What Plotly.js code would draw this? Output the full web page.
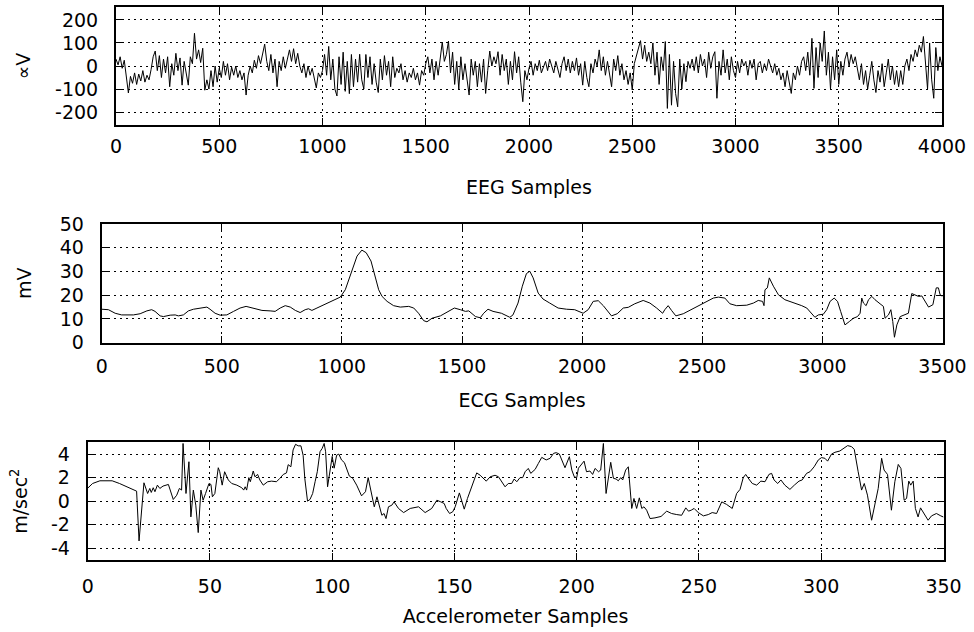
<!DOCTYPE html>
<html>
<head>
<meta charset="utf-8">
<script src="https://cdn.plot.ly/plotly-3.0.1.min.js"></script>
<style>html,body{margin:0;padding:0;background:#fff;}#chart{width:974px;height:632px;}</style>
</head>
<body>
<div id="chart"></div>
<script>
// ---------- EEG (one value every eegStep samples) ----------
const eegStep = 10;
const eegValues = [
  30, 5, 40, -10, 25, -50, -117, -45, -75, -30, -80, -35, -65, -20, -70, -40, -60, -15, 40, 65,
  -20, 45, -50, 30, -30, 40, -90, 10, -40, 55, -20, 35, -83, 20, -30, -83, 40, 10, 142, 30,
  70, 15, 77, -105, -60, -100, -20, -90, 0, -70, -10, -50, 20, -40, 10, -60, -5, -40, 0, -50,
  -20, -60, -30, -126, -40, 0, -30, 25, -10, 45, 10, 50, 95, 20, -20, 50, -30, 30, -90, 20,
  -20, 40, -10, 30, 70, 20, 75, 10, 55, 0, -30, 10, -50, 0, -40, -10, -60, -95, -30, -50,
  -20, 50, -40, 85, -60, 30, -100, -130, 40, -80, 60, -110, 20, -120, 50, -90, 30, -70, 51, -60,
  -100, 50, -50, 40, -80, 10, -70, -115, 30, -60, 45, -40, 20, -90, 40, -50, -10, -30, 10, -60,
  -20, -70, -30, -50, -10, -60, -30, -83, -20, -40, 10, 40, -30, 30, -60, 20, -40, 40, 104, 20,
  50, 108, -30, 60, -80, 20, -100, 40, -60, 10, -50, -126, 30, -40, 20, -90, 10, -70, 30, -119,
  -20, 65, 0, 40, 10, 62, -40, 50, -20, 30, -80, 20, -60, 62, -30, 40, -70, -155, -20, -60,
  -10, 20, -40, 10, -20, 25, -30, 0, 20, -20, 30, 0, -30, 20, -10, -50, 10, 40, -20, 30,
  -30, 20, -20, 35, -40, 10, -83, 20, -50, -90, 10, -30, 30, 0, 70, -20, 40, -40, 20, -30,
  -90, 30, -20, 45, -40, 10, -60, -20, -80, -30, -104, 10, 40, 70, 110, 30, 90, 20, 60, 10,
  100, -40, 60, -80, 40, -20, 106, -184, 50, -170, 20, -120, -177, 30, -100, 10, -68, 20, -10, 30,
  -20, 40, -30, 50, 0, 30, -50, 60, -10, 40, 62, -140, 20, -40, 70, -30, 30, -60, 40, -20,
  -50, 20, -30, 30, 0, 20, -40, 25, -10, 30, -60, 10, 20, -30, 10, -20, 30, 0, -30, 10,
  -40, -10, -60, -30, -90, -20, -70, -119, -30, -60, 0, -40, 20, 40, -20, 60, -40, 120, -97, 80,
  -50, 100, 20, 152, -40, 60, -100, 40, -60, 70, -80, 20, -40, 30, 60, 0, 50, 10, 40, -20,
  -60, 10, -80, -20, -100, -40, 20, -60, -115, -20, -70, 10, -90, -30, 30, -60, 0, -80, -20, -90,
  -20, -80, 0, 30, -20, 50, 20, 70, 40, 90, 60, 128, 30, -100, 100, -60, -140, 80, -20, 40,
  0
];
const eegSamples = eegValues.map((v, i) => i * eegStep);
const eegTickVals = [-200, -100, 0, 100, 200];
const eegTickText = ['-200', '-100', '0', '100', '200'];

// ---------- ECG ----------
const ecgSamples = [
  0,28,56,83,132,160,188,208,222,243,
  257,285,306,319,340,361,382,410,438,451,
  472,493,521,549,576,601,632,667,701,722,
  743,764,785,806,826,847,861,875,896,917,
  944,972,993,1014,1028,1046,1063,1083,1101,1121,
  1139,1153,1167,1188,1215,1243,1278,1299,1319,1340,
  1354,1375,1410,1444,1468,1493,1514,1528,1556,1576,
  1590,1608,1629,1664,1699,1712,1733,1751,1768,1782,
  1796,1817,1837,1865,1900,1935,1969,2004,2025,2046,
  2067,2088,2108,2122,2146,2171,2192,2219,2254,2282,
  2310,2335,2344,2358,2372,2390,2421,2456,2490,2518,
  2546,2567,2594,2615,2643,2685,2713,2733,2751,2757,
  2761,2771,2779,2796,2817,2844,2879,2914,2935,2956,
  2969,2983,3004,3018,3032,3049,3063,3076,3094,3112,
  3129,3146,3157,3164,3171,3182,3192,3206,3219,3240,
  3254,3261,3275,3285,3293,3300,3310,3324,3344,3358,
  3372,3386,3400,3414,3428,3442,3460,3474,3483,3490,
  3500
];
const ecgValues = [
  14.1,13.9,12.4,11.7,11.7,12.2,13.4,13.9,13.2,11.3,
  11.0,11.6,11.7,11.3,11.7,13.4,14.1,14.6,15.0,14.1,
  12.4,11.6,11.7,13.2,14.6,15.3,14.6,13.6,13.4,13.2,
  14.6,15.6,15.0,13.6,12.7,13.9,14.3,13.6,14.6,15.6,
  16.7,18.1,19.2,22.3,26.6,32.2,36.5,39.0,37.9,34.4,
  28.0,22.3,19.5,17.4,15.6,15.0,15.3,14.6,12.4,9.3,
  8.8,10.3,11.3,13.2,14.6,13.9,13.2,13.4,11.0,10.5,
  12.4,14.1,13.2,12.4,10.7,11.7,16.7,23.8,29.1,30.1,
  27.3,20.9,18.4,16.7,14.6,14.1,13.9,12.4,13.9,17.4,
  17.7,15.6,13.2,11.3,12.2,14.6,14.9,16.4,17.8,16.7,
  14.6,12.4,13.9,15.6,13.6,11.3,12.2,14.1,15.6,17.4,
  18.8,19.2,18.8,16.4,15.6,15.8,16.7,17.8,17.4,15.6,
  22.3,23.1,27.3,23.8,20.2,18.1,17.0,15.6,14.6,12.4,
  10.7,11.7,12.0,13.9,17.4,18.8,17.4,13.2,7.5,8.9,
  10.3,11.0,12.4,18.8,16.7,15.6,18.1,19.5,18.1,16.4,
  15.3,10.3,11.7,13.9,8.9,2.3,7.5,11.0,11.7,12.4,
  20.7,20.2,19.5,19.7,17.4,15.0,16.0,23.1,23.1,20.2,
  19.5
];

// ---------- Accelerometer ----------
const accSamples = [
  0,2,5,10,13,16,17,20,21,23,
  24.5,25.4,26,26.8,27.5,28.5,29.5,30.8,33,35,
  36.4,37.5,38.4,39,40.2,41.4,42.2,43.2,44.2,45.2,
  46.3,47.2,48.2,49.6,50.4,51,52,53.4,54,55,
  56,57.5,58.9,61,63,63.8,64.4,65,65.9,66.5,
  67.7,68.4,69.5,70.4,71.8,73.6,75.2,77.2,78.6,80,
  81.3,82,83.1,84,85,86.1,87.2,88.1,88.8,89.9,
  90.9,92,93,93.9,95,95.9,96.7,97.3,98.1,99,
  100,100.8,101.8,102.7,103.8,105,107,108.4,110,112,
  113.6,114.7,115.8,117.2,118.3,120.3,121.2,122,123,124.4,
  125.3,127.1,129.2,131.9,135.3,138,140.7,142.8,144.4,145.8,
  146.6,148,149.3,150.3,152,154,155.3,156.8,157.8,159.1,
  160.5,163,164.6,166.6,168,169.3,170.7,172,173.4,174.4,
  175.5,176.8,177.9,178.9,180.2,181.2,183,184.3,185.7,187.5,
  189.1,190.5,191.6,192.9,193.8,195.2,197,198,199,200,
  200.7,202,203,204,205.4,206.5,207.5,208.9,209.8,210.9,
  212,213.9,215,216.1,217,218,218.8,220,221.1,222.5,
  223.4,224.5,225.6,226.6,227.5,228.6,230,232,234.5,236.8,
  238.8,240.9,242.9,244.6,245.7,246.8,248,249.7,251.8,253.8,
  255.4,257.2,259.3,261.3,263.6,265.4,266.8,268.1,269.1,270.4,
  271.8,273.6,275.3,277,278.6,279.7,280.7,282.2,283.5,285.1,
  287.2,289,290.9,292.2,294,295.4,297.1,298.8,300.1,301.5,
  302.6,304.2,305.6,307.6,309,310.8,312.4,313.5,315.1,316.5,
  317.6,318.9,320.6,321.9,323.3,324.7,325.7,327.1,328.7,330.1,
  331.5,332.6,333.9,334.9,335.8,336.6,337.6,338.5,339.6,340.6,
  342.1,343.7,345.1,347.1,348.9,350
];
const accValues = [
  1.1,1.5,1.73,1.73,1.5,1.22,1.14,0.85,-3.38,1.56,
  0.65,1.08,0.74,1.14,0.8,1.36,1.08,1.28,1.42,0.14,
  0.5,1.08,0.94,4.9,0.65,3.35,-1.34,0.94,-0.34,-2.67,
  0.94,0.08,0.65,1.5,1.42,0.37,0.65,2.84,2.5,1.36,
  2.5,1.8,1.5,1.36,1.14,0.94,1.22,0.94,2.0,1.65,
  2.56,2.07,2.27,1.8,1.36,1.65,1.7,1.65,1.94,2.27,
  2.4,3.1,2.92,4.35,4.83,4.7,4.7,3.9,1.9,0,
  0.14,0.65,1.65,2.5,4.2,4.48,4.9,4.2,1.22,2.5,
  3.8,2.8,3.9,4.0,3.5,3.27,2.13,1.94,1.36,0.45,
  0.8,2.0,0.8,-0.48,0.37,-1.2,-1.05,-1.48,-0.48,-0.34,
  -0.06,-0.62,-0.97,-0.62,-0.48,-0.97,-0.62,0.08,-0.06,-0.2,
  -0.62,-1.05,-0.9,-0.48,0.7,-0.68,0.22,1.08,1.7,2.4,
  2.2,1.7,2.07,2.2,2.07,1.65,1.22,1.5,1.5,1.88,
  1.65,2.0,2.0,2.5,2.78,2.36,2.7,3.2,3.72,3.5,
  3.64,4.06,4.12,4.0,3.5,2.84,3.78,2.64,2.07,2.0,
  2.8,3.2,3.4,2.5,2.56,2.27,2.78,2.5,2.64,4.9,
  0.65,3.3,1.94,1.88,1.73,2.0,1.8,2.64,2.92,-0.62,
  0.23,-0.62,0.28,-0.62,-0.48,-0.77,-1.48,-1.42,-1.3,-0.85,
  -1.05,-1.14,-1.2,-0.57,-0.85,-0.77,-0.62,-0.97,-1.25,-1.14,
  -0.97,-1.05,-0.06,-0.28,-0.62,0.65,1.0,2.0,2.27,1.88,
  1.5,1.36,1.7,1.65,2.27,2.36,1.8,1.5,1.8,1.36,
  1.0,1.36,1.7,1.8,2.36,2.5,2.92,3.5,3.7,3.64,
  3.4,4.0,4.15,4.26,4.43,4.72,4.63,4.4,2.5,0.94,
  1.5,0.51,-1.62,-0.2,1.08,3.64,2.64,2.27,-0.77,1.65,
  3.12,2.78,0.08,0.23,1.7,1.36,1.7,-0.62,-1.34,-0.57,
  -1.05,-1.62,-1.25,-1.05,-1.25,-1.35
];
const accTickVals = [-4, -2, 0, 2, 4];
const accTickText = ['-4', '-2', '0', '2', '4'];

// ---------- labels ----------
const eegTitle = 'EEG Samples', eegUnit = '∝V';
const ecgTitle = 'ECG Samples', ecgUnit = 'mV';
const accTitle = 'Accelerometer Samples', accUnit = 'm/sec<sup>2</sup>';

const W = 974, H = 632;
const FONT = {family: 'DejaVu Sans, sans-serif', size: 19, color: '#000'};
function ax(extra) {
  return Object.assign({
    showline: true, linewidth: 2, linecolor: '#000', mirror: 'ticks',
    ticks: 'inside', ticklen: 7, tickwidth: 1, tickcolor: '#000',
    showgrid: true, gridcolor: '#000', gridwidth: 1, griddash: '2px,4px',
    zeroline: false, tickfont: FONT, automargin: false, fixedrange: true
  }, extra);
}
const line = {color: '#000', width: 1};
const traces = [
  {x: eegSamples, y: eegValues, xaxis: 'x', yaxis: 'y', type: 'scatter', mode: 'lines', line: line, hoverinfo: 'skip'},
  {x: ecgSamples, y: ecgValues, xaxis: 'x2', yaxis: 'y2', type: 'scatter', mode: 'lines', line: line, hoverinfo: 'skip'},
  {x: accSamples, y: accValues, xaxis: 'x3', yaxis: 'y3', type: 'scatter', mode: 'lines', line: line, hoverinfo: 'skip'}
];
const layout = {
  width: W, height: H, margin: {l: 0, r: 0, t: 0, b: 0},
  paper_bgcolor: '#fff', plot_bgcolor: '#fff', showlegend: false,
  font: FONT,
  xaxis: ax({domain: [116/W, 942/W], range: [0, 4000], dtick: 500, tick0: 0, anchor: 'y',
    ticklabelstandoff: 3, title: {text: eegTitle, font: FONT, standoff: 25}}),
  yaxis: ax({domain: [1-125/H, 1-7/H], range: [-256, 256], tickmode: 'array',
    tickvals: eegTickVals, ticktext: eegTickText, anchor: 'x',
    ticklabelstandoff: 12, title: {text: eegUnit, font: FONT, standoff: 19}}),
  xaxis2: ax({domain: [101.7/W, 942.5/W], range: [0, 3500], dtick: 500, tick0: 0, anchor: 'y2',
    ticklabelstandoff: 5, title: {text: ecgTitle, font: FONT, standoff: 18}}),
  yaxis2: ax({domain: [1-342.7/H, 1-224/H], range: [0, 50], dtick: 10, tick0: 0, anchor: 'x2',
    ticklabelstandoff: 12, title: {text: ecgUnit, font: FONT, standoff: 23}}),
  xaxis3: ax({domain: [87.7/W, 943.5/W], range: [0, 350], dtick: 50, tick0: 0, anchor: 'y3',
    ticklabelstandoff: 8, title: {text: accTitle, font: FONT, standoff: 14}}),
  yaxis3: ax({domain: [1-560/H, 1-442.3/H], range: [-5, 5], tickmode: 'array',
    tickvals: accTickVals, ticktext: accTickText, anchor: 'x3',
    ticklabelstandoff: 12, title: {text: accUnit, font: FONT, standoff: 18}})
};
Plotly.newPlot('chart', traces, layout, {staticPlot: true, displayModeBar: false});
</script>
</body>
</html>
